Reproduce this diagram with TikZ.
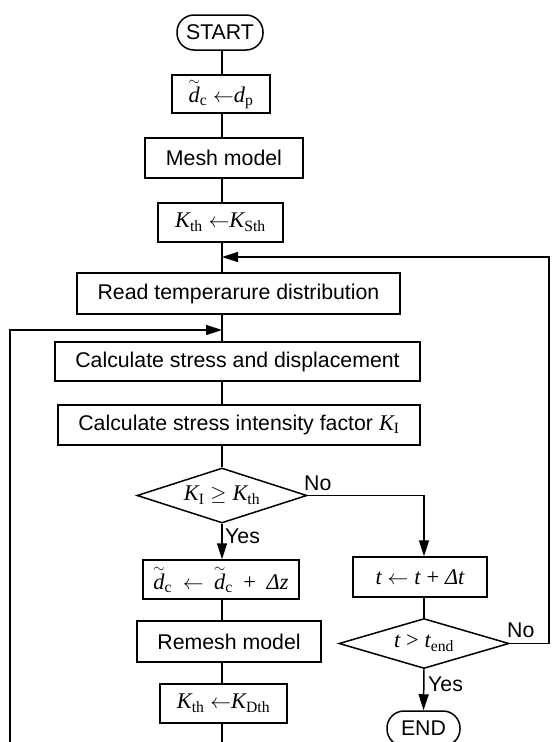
\documentclass[tikz,border=0pt]{standalone}
\usepackage{fontspec}
\setmainfont{Liberation Sans}
\newfontfamily\tms[Scale=1.05]{Liberation Serif}
\usetikzlibrary{arrows.meta,shapes.geometric}
\newcommand\vi[1]{{\tms\itshape #1}}
\newcommand\vs[1]{\textsubscript{\tms\upshape #1}}
\newcommand\tld{$\mathop{\hbox{\vi{d}}}\limits^{\sim}$}
\begin{document}
\begin{tikzpicture}[x=1pt,y=-1pt,
  every node/.style={font=\fontsize{21.3}{25}\selectfont},
  conn/.style={line width=1.5pt},
  arr/.style={line width=1.5pt,-{Triangle[length=16pt,width=10pt]}},
  procbox/.style={draw,line width=1.5pt,inner sep=0pt,align=center},
  term/.style={draw,line width=1.5pt,inner sep=0pt,rounded corners=17pt},
  decision/.style={draw,line width=1.5pt,diamond,inner sep=0pt,aspect=3.1},
  lbl/.style={inner sep=0pt,anchor=base west}]
\useasboundingbox (0,0) rectangle (552,742);
\clip (0,0) rectangle (552,742);
\coordinate (col) at (222,0);
\coordinate (rcol) at (424,0);
% main column
\node[term,minimum width=86pt,minimum height=35pt] (start) at (220,32.5) {START};
\node[procbox,minimum width=98pt,minimum height=38pt] (d1) at (221,94) {\tld\vs{c}\ $\leftarrow$\vi{d}\vs{p}};
\node[procbox,minimum width=158pt,minimum height=40pt] (mesh) at (224,158) {Mesh model};
\node[procbox,minimum width=125pt,minimum height=39pt] (kS) at (220.5,222.5) {\vi{K}\vs{th}\ $\leftarrow$\vi{K}\vs{Sth}};
\node[procbox,minimum width=323pt,minimum height=41pt] (read) at (238.5,293.5) {Read temperarure distribution};
\node[procbox,minimum width=365pt,minimum height=39pt] (calc) at (237.5,361.5) {Calculate stress and displacement};
\node[procbox,minimum width=362pt,minimum height=40pt] (sif) at (239,425) {Calculate stress intensity factor \vi{K}\vs{I}};
\node[decision,minimum width=170pt,minimum height=55pt] (dia1) at (222,495.5) {\vi{K}\vs{I} $\geq$ \vi{K}\vs{th}};
\node[procbox,minimum width=156pt,minimum height=39pt] (d2) at (221,579.5) {\tld\vs{c}\enspace$\leftarrow$\enspace\tld\vs{c}\enspace{\tms +}\enspace\vi{Δz}};
\node[procbox,minimum width=184pt,minimum height=41pt] (remesh) at (229,641.5) {Remesh model};
\node[procbox,minimum width=127pt,minimum height=39pt] (kD) at (223.5,703.5) {\vi{K}\vs{th}\ $\leftarrow$\vi{K}\vs{Dth}};
% right column
\node[procbox,minimum width=134pt,minimum height=40pt] (tbox) at (420,577) {\vi{t} $\leftarrow$ \vi{t} {\tms +} \vi{Δt}};
\node[decision,minimum width=170pt,minimum height=50pt] (dia2) at (424,643.5) {\vi{t} {\tms >} \vi{t}\vs{end}};
\node[term,minimum width=73pt,minimum height=35pt] (endn) at (423.5,728.5) {END};
% merge points and loop corners
\coordinate (m1) at (222,257);
\coordinate (m2) at (222,330);
\coordinate (rtop) at (549,257);
\coordinate (bot) at (222,770);
\coordinate (ltop) at (10,330);
% connectors
\draw[conn] (start.south -| col) -- (d1.north -| col);
\draw[conn] (d1.south -| col) -- (mesh.north -| col);
\draw[conn] (mesh.south -| col) -- (kS.north -| col);
\draw[conn] (kS.south -| col) -- (read.north -| col);
\draw[conn] (read.south -| col) -- (calc.north -| col);
\draw[conn] (calc.south -| col) -- (sif.north -| col);
\draw[conn] (sif.south -| col) -- (dia1.north);
\draw[arr] (dia1.south) -- (d2.north -| col);
\draw[conn] (d2.south -| col) -- (remesh.north -| col);
\draw[conn] (remesh.south -| col) -- (kD.north -| col);
\draw[arr] (kD.south -| col) -- (bot) -| (ltop) -- (m2);
\draw[arr] (dia1.east) -| (tbox.north -| rcol);
\draw[conn] (tbox.south -| rcol) -- (dia2.north);
\draw[arr] (dia2.south) -- (endn.north);
\draw[arr] (dia2.east) -| (rtop) -- (m1);
% labels
\node[lbl] (no1) at (304,490) {No};
\node[lbl] (yes1) at (225,543) {Yes};
\node[lbl] (no2) at (507,637) {No};
\node[lbl] (yes2) at (428,691) {Yes};
\end{tikzpicture}
\end{document}
